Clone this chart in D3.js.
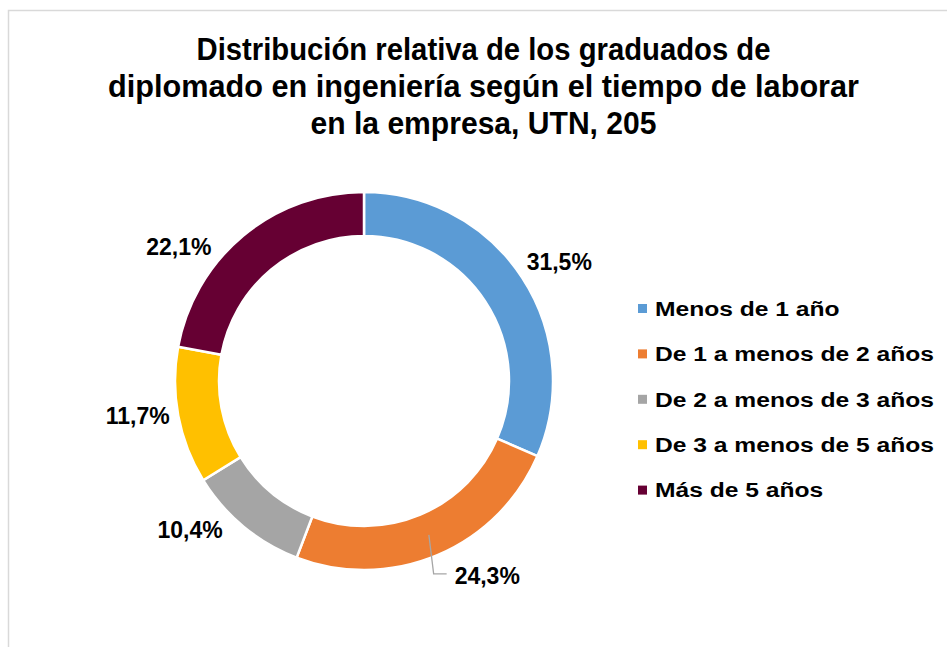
<!DOCTYPE html>
<html>
<head>
<meta charset="utf-8">
<script src="https://cdn.jsdelivr.net/npm/d3@7"></script>
<style>
  html, body { margin: 0; padding: 0; background: #fff; }
  svg { display: block; }
  text { font-family: "Liberation Sans", Arial, sans-serif; font-weight: bold; fill: #000; }
</style>
</head>
<body>
<svg width="947" height="647"></svg>
<script>
const categories = [
    "Menos de 1 año",
    "De 1 a menos de 2 años",
    "De 2 a menos de 3 años",
    "De 3 a menos de 5 años",
    "Más de 5 años"
];
const values = [31.5, 24.3, 10.4, 11.7, 22.1];
const labels = ["31,5%", "24,3%", "10,4%", "11,7%", "22,1%"];
const colors = ["#5B9BD5", "#ED7D31", "#A5A5A5", "#FFC000", "#660033"];
const titleLines = [
    "Distribución relativa de los graduados de",
    "diplomado en ingeniería según el tiempo de laborar",
    "en la empresa, UTN, 205"
];

const svg = d3.select("svg");

// chart area frame
svg.append("rect")
    .attr("x", 8.5).attr("y", 10.5)
    .attr("width", 1000).attr("height", 1000)
    .attr("fill", "#fff")
    .attr("stroke", "#d9d9d9")
    .attr("stroke-width", 1.5);

// title, centred; line widths taken from the original rendering
const titleWidths = [574, 751, 346];
svg.append("g").selectAll("text")
    .data(titleLines)
    .enter()
    .append("text")
    .attr("x", 483.5)
    .attr("y", (d, i) => 60 + i * 37)
    .attr("font-size", 31)
    .attr("text-anchor", "middle")
    .attr("textLength", (d, i) => titleWidths[i])
    .attr("lengthAdjust", "spacingAndGlyphs")
    .text((d) => d);

// donut
const cx = 364, cy = 381;
const outerR = 189, innerR = 145;

const pie = d3.pie().sort(null).value((d) => d);
const arcs = pie(values);
const arc = d3.arc().innerRadius(innerR).outerRadius(outerR);

const g = svg.append("g").attr("transform", `translate(${cx}, ${cy})`);

g.selectAll("path")
    .data(arcs)
    .enter()
    .append("path")
    .attr("d", arc)
    .attr("fill", (d, i) => colors[i])
    .attr("stroke", "#fff")
    .attr("stroke-width", 2.5);

// data labels, placed around the ring (angle nudges in degrees)
const labelR = 229;
const nudge = [1.8, 0, 9.8, 1.85, -14.2];
const labelSize = 23;

function polar(r, a) {
    return [r * Math.sin(a), -r * Math.cos(a)];
}

arcs.forEach((d, i) => {
    const mid = (d.startAngle + d.endAngle) / 2;
    if (i === 1) {
        // label with leader line
        const [sx, sy] = arc.centroid(d);
        const [ex, ey] = polar(205, mid + 3 * Math.PI / 180);
        g.append("path")
            .attr("d", `M${sx},${sy}L${ex},${ey}H${ex + 13}`)
            .attr("fill", "none")
            .attr("stroke", "#a6a6a6")
            .attr("stroke-width", 1.3);
        g.append("text")
            .attr("x", ex + 21)
            .attr("y", ey + 1.5 + labelSize * 0.36)
            .attr("font-size", labelSize)
            .attr("text-anchor", "start")
            .text(labels[i]);
        return;
    }
    const [x, y] = polar(labelR, mid + nudge[i] * Math.PI / 180);
    g.append("text")
        .attr("x", x)
        .attr("y", y + labelSize * 0.36)
        .attr("font-size", labelSize)
        .attr("text-anchor", "middle")
        .text(labels[i]);
});

// legend
const legend = svg.append("g").attr("transform", "translate(638, 308.5)");
const rowH = 45.4;
const legendSize = 20;

const rows = legend.selectAll("g")
    .data(categories)
    .enter()
    .append("g")
    .attr("transform", (d, i) => `translate(0, ${i * rowH})`);

rows.append("rect")
    .attr("x", 0).attr("y", -4.5)
    .attr("width", 9).attr("height", 9)
    .attr("fill", (d, i) => colors[i]);

const legendText = rows.append("text")
    .attr("x", 17)
    .attr("y", legendSize * 0.36)
    .attr("font-size", legendSize)
    .text((d) => d);

// widen legend text to the original proportions (279px for the longest row)
const widest = legendText.nodes()[1].getComputedTextLength();
const stretch = 279 / widest;
legendText.each(function () {
    const w = this.getComputedTextLength();
    d3.select(this)
        .attr("textLength", w * stretch)
        .attr("lengthAdjust", "spacingAndGlyphs");
});
</script>
</body>
</html>
